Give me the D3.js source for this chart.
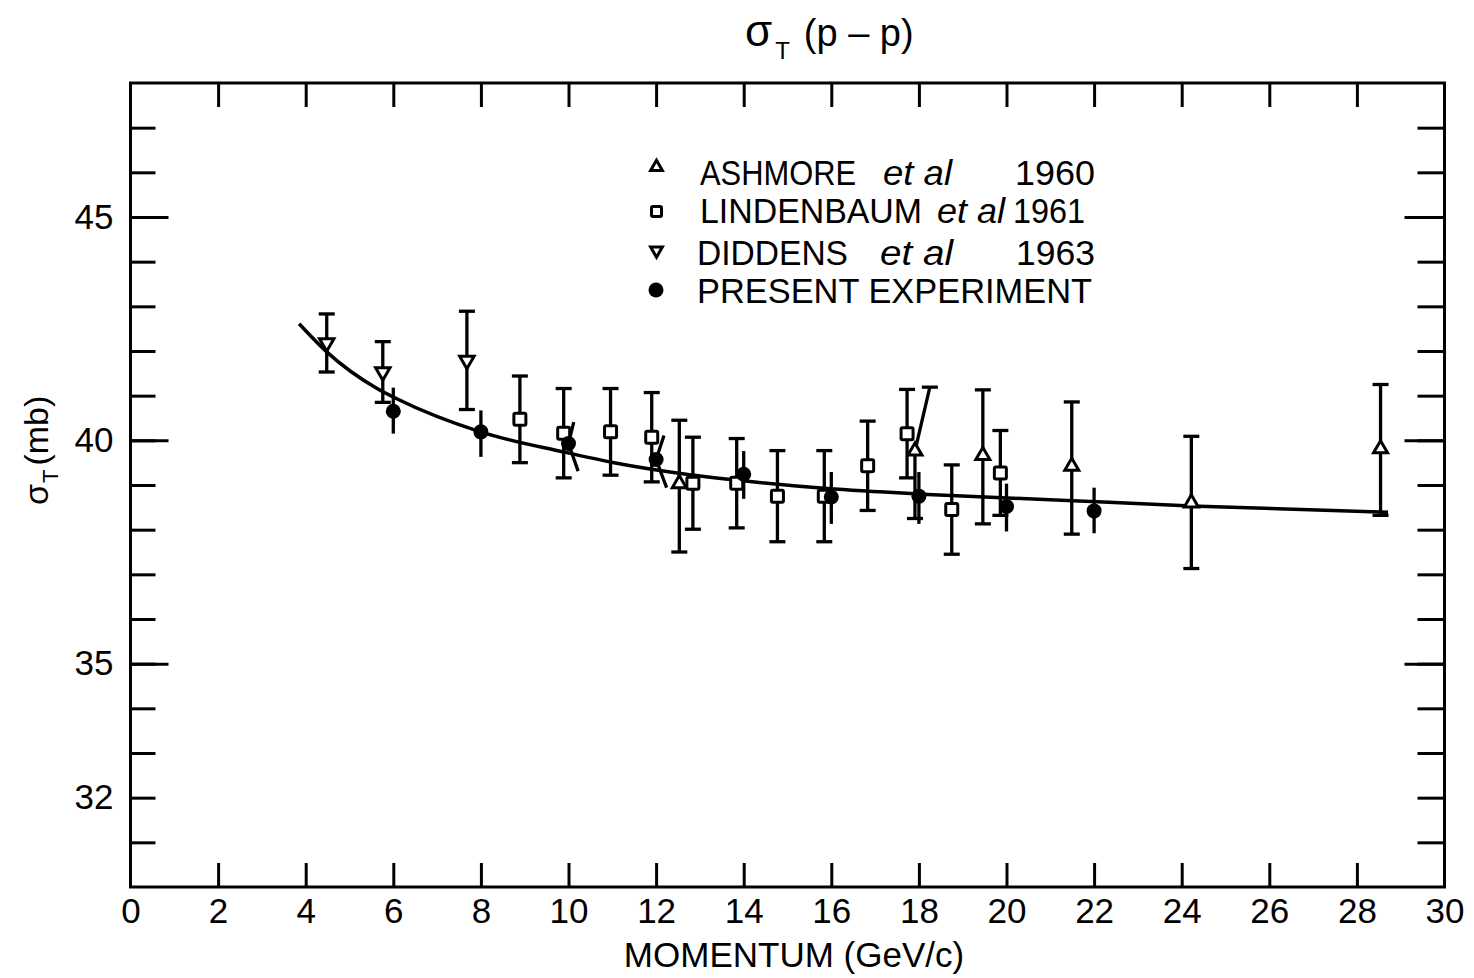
<!DOCTYPE html>
<html>
<head>
<meta charset="utf-8">
<script src="https://cdn.jsdelivr.net/npm/d3@7"></script>
<style>
  body { margin: 0; background: #fff; }
  svg { display: block; }
</style>
</head>
<body>
<div id="chart"></div>
<script>
// data (momentum in GeV/c, sigma_T in mb)
const ashmoreP = [12.53, 17.91, 19.46, 21.49, 24.22, 28.54];
const ashmoreS = [39.03, 39.76, 39.66, 39.42, 38.6, 39.81];
const ashmoreLo = [37.5, 38.25, 38.13, 37.9, 37.13, 38.32];
const ashmoreHi = [40.45, 41.19, 41.13, 40.86, 40.09, 41.25];
const ashmoreTopP = [12.53, 18.25, 19.46, 21.49, 24.22, 28.54]; // top of bar drawn crooked at 18

const lindenbaumP = [8.89, 9.89, 10.96, 11.9, 12.84, 13.84, 14.77, 15.84, 16.83, 17.73, 18.75, 19.86];
const lindenbaumS = [40.47, 40.16, 40.19, 40.07, 39.04, 39.04, 38.75, 38.75, 39.43, 40.15, 38.45, 39.27];
const lindenbaumErr = [0.97, 1.0, 0.97, 1.0, 1.03, 1.0, 1.02, 1.02, 1.0, 0.99, 1.0, 0.95];

const diddensP = [4.48, 5.76, 7.68];
const diddensS = [42.18, 41.53, 41.79];
const diddensErr = [0.65, 0.68, 1.1];

const presentP = [6, 8, 10, 12, 14, 16, 18, 20, 22];
const presentS = [40.65, 40.19, 39.93, 39.57, 39.24, 38.73, 38.75, 38.52, 38.42];
const presentLo = [40.15, 39.63, 39.31, 38.94, 38.69, 38.13, 38.13, 37.96, 37.92];
const presentHi = [41.18, 40.67, 40.41, 40.11, 39.76, 39.29, 39.29, 39.03, 38.94];
const presentTopP = [6, 8, 10.12, 12.18, 14, 16, 18, 20, 22];
const presentBotP = [6, 8, 10.22, 12.24, 14, 16, 18, 20, 22];

// fitted curve
const fitP = [3.85, 4.48, 5.63, 6.08, 7.99, 9.89, 11.04, 12.48, 13.93, 15.91, 18.2, 21.25, 24.22, 28.71];
const fitS = [42.61, 41.98, 41.16, 40.93, 40.19, 39.74, 39.5, 39.27, 39.1, 38.92, 38.79, 38.66, 38.53, 38.39];

const xLabels = d3.range(0, 31, 2);
const xTicks = d3.range(2, 30, 2);
const yMinor = d3.range(31, 48, 1);
const yMajor = [35, 40, 45];
const yLabels = [32, 35, 40, 45];

const legendNames = ["ASHMORE", "LINDENBAUM", "DIDDENS", "PRESENT EXPERIMENT"];
const legendYears = ["1960", "1961", "1963", ""];

const font = "'Liberation Sans', Arial, sans-serif";

const width = 1474, height = 978;
const x0 = 130.5, x1 = 1444.5, y0 = 83, y1 = 887;

const svg = d3.select("#chart").append("svg")
  .attr("width", width)
  .attr("height", height);

const x = d3.scaleLinear().domain([0, 30]).range([x0, x1]);
const y = d3.scaleLinear().domain([30, 48]).range([y1, y0]);

// ticks, all pointing inwards
function inward(g) {
  g.select(".domain").remove();
  g.selectAll("line").attr("stroke", "#000").attr("stroke-width", 3);
}
svg.append("g").attr("transform", `translate(0,${y1})`)
  .call(d3.axisBottom(x).tickValues(xTicks).tickSize(-24).tickFormat(""))
  .call(inward);
svg.append("g").attr("transform", `translate(0,${y0})`)
  .call(d3.axisTop(x).tickValues(xTicks).tickSize(-24).tickFormat(""))
  .call(inward);
svg.append("g").attr("transform", `translate(${x0},0)`)
  .call(d3.axisLeft(y).tickValues(yMinor).tickSize(-25).tickFormat(""))
  .call(inward);
svg.append("g").attr("transform", `translate(${x0},0)`)
  .call(d3.axisLeft(y).tickValues(yMajor).tickSize(-38).tickFormat(""))
  .call(inward);
svg.append("g").attr("transform", `translate(${x1},0)`)
  .call(d3.axisRight(y).tickValues(yMinor).tickSize(-27).tickFormat(""))
  .call(inward);
svg.append("g").attr("transform", `translate(${x1},0)`)
  .call(d3.axisRight(y).tickValues(yMajor).tickSize(-40).tickFormat(""))
  .call(inward);

// tick labels
const xAx = svg.append("g").attr("transform", `translate(0,${y1})`)
  .call(d3.axisBottom(x).tickValues(xLabels).tickSize(0).tickPadding(11).tickFormat(d3.format("d")));
xAx.select(".domain").remove();
xAx.attr("font-family", font).attr("font-size", 35);
xAx.selectAll("text").attr("fill", "#000");

const yAx = svg.append("g").attr("transform", `translate(${x0},0)`)
  .call(d3.axisLeft(y).tickValues(yLabels).tickSize(0).tickPadding(17).tickFormat(d3.format("d")));
yAx.select(".domain").remove();
yAx.attr("font-family", font).attr("font-size", 35);
yAx.selectAll("text").attr("fill", "#000");

// frame
svg.append("rect")
  .attr("x", x0).attr("y", y0)
  .attr("width", x1 - x0).attr("height", y1 - y0)
  .attr("fill", "none").attr("stroke", "#000").attr("stroke-width", 3);

// fitted curve
const fit = fitP.map((p, i) => [p, fitS[i]]);
svg.append("path")
  .datum(fit)
  .attr("fill", "none")
  .attr("stroke", "#000")
  .attr("stroke-width", 3.5)
  .attr("d", d3.line().x(d => x(d[0])).y(d => y(d[1])).curve(d3.curveMonotoneX));

const bars = svg.append("g").attr("stroke", "#000").attr("stroke-width", 3.3).attr("fill", "none");
const cap = 8;

function capped(p, s, lo, hi, topP) {
  bars.append("path").attr("d", d3.line()([
    [x(p), y(lo)], [x(p), y(s)], [x(topP), y(hi)]
  ]));
  bars.append("line").attr("x1", x(p) - cap).attr("x2", x(p) + cap).attr("y1", y(lo)).attr("y2", y(lo));
  bars.append("line").attr("x1", x(topP) - cap).attr("x2", x(topP) + cap).attr("y1", y(hi)).attr("y2", y(hi));
}

ashmoreP.forEach((p, i) => capped(p, ashmoreS[i], ashmoreLo[i], ashmoreHi[i], ashmoreTopP[i]));
lindenbaumP.forEach((p, i) => capped(p, lindenbaumS[i], lindenbaumS[i] - lindenbaumErr[i], lindenbaumS[i] + lindenbaumErr[i], p));
diddensP.forEach((p, i) => capped(p, diddensS[i], diddensS[i] - diddensErr[i], diddensS[i] + diddensErr[i], p));
presentP.forEach((p, i) => {
  bars.append("path").attr("d", d3.line()([
    [x(presentBotP[i]), y(presentLo[i])], [x(p), y(presentS[i])], [x(presentTopP[i]), y(presentHi[i])]
  ]));
});

// markers
function drawTriUp(g, cx, cy, s) {
  g.append("path").attr("d", d3.symbol().type(d3.symbolTriangle).size(s)())
    .attr("transform", `translate(${cx},${cy})`)
    .attr("fill", "#fff").attr("stroke", "#000").attr("stroke-width", 3);
}
function drawTriDown(g, cx, cy, s) {
  g.append("path").attr("d", d3.symbol().type(d3.symbolTriangle).size(s)())
    .attr("transform", `translate(${cx},${cy}) rotate(180)`)
    .attr("fill", "#fff").attr("stroke", "#000").attr("stroke-width", 3);
}
function drawSquare(g, cx, cy, w) {
  g.append("rect").attr("x", cx - w / 2).attr("y", cy - w / 2)
    .attr("width", w).attr("height", w).attr("rx", 1.5)
    .attr("fill", "#fff").attr("stroke", "#000").attr("stroke-width", 3);
}
function drawDot(g, cx, cy, r) {
  g.append("circle").attr("cx", cx).attr("cy", cy).attr("r", r).attr("fill", "#000");
}

const marks = svg.append("g");
ashmoreP.forEach((p, i) => drawTriUp(marks, x(p), y(ashmoreS[i]), 85));
lindenbaumP.forEach((p, i) => drawSquare(marks, x(p), y(lindenbaumS[i]), 12));
diddensP.forEach((p, i) => drawTriDown(marks, x(p), y(diddensS[i]), 90));
presentP.forEach((p, i) => drawDot(marks, x(p), y(presentS[i]), 7.5));

// legend
const legend = svg.append("g").attr("font-family", font).attr("font-size", 35).attr("fill", "#000");
const rowY = [185, 223, 265, 303];
const markY = [166, 211.5, 251.5, 290];
drawTriUp(legend, 656.5, markY[0] + 1, 60);
drawSquare(legend, 656.5, markY[1], 10);
drawTriDown(legend, 656.5, markY[2] - 1, 60);
drawDot(legend, 656, markY[3], 7.5);

const nameX = [700, 700, 697, 697];
const nameLen = [156, 222, 151, 395];
const etalX = [883, 937, 880];
const etalLen = [69, 68, 73];
const yearX = [1015, 1013, 1016];
const yearLen = [80, 72, 79];
legendNames.forEach((n, i) => {
  legend.append("text").attr("x", nameX[i]).attr("y", rowY[i])
    .attr("textLength", nameLen[i]).attr("lengthAdjust", "spacingAndGlyphs").text(n);
  if (legendYears[i]) {
    legend.append("text").attr("x", etalX[i]).attr("y", rowY[i])
      .attr("font-style", "italic")
      .attr("textLength", etalLen[i]).attr("lengthAdjust", "spacingAndGlyphs").text("et al");
    legend.append("text").attr("x", yearX[i]).attr("y", rowY[i])
      .attr("textLength", yearLen[i]).attr("lengthAdjust", "spacingAndGlyphs").text(legendYears[i]);
  }
});

// title
const title = svg.append("text").attr("x", 745).attr("y", 46)
  .attr("font-family", font).attr("font-size", 38).attr("fill", "#000");
title.append("tspan").attr("font-size", 44).text("σ");
title.append("tspan").attr("font-size", 24).attr("dy", 13).attr("dx", 3).text("T");
title.append("tspan").attr("dy", -13).attr("dx", 14).text("(p – p)");

// axis titles
svg.append("text")
  .attr("x", 794).attr("y", 967)
  .attr("text-anchor", "middle")
  .attr("font-family", font).attr("font-size", 35).attr("fill", "#000")
  .text("MOMENTUM (GeV/c)");

const yt = svg.append("text")
  .attr("transform", "translate(48,505) rotate(-90)")
  .attr("font-family", font).attr("font-size", 34).attr("fill", "#000");
yt.append("tspan").text("σ");
yt.append("tspan").attr("font-size", 22).attr("dy", 10).attr("dx", 1).text("T");
yt.append("tspan").attr("dy", -10).attr("dx", 4).text("(mb)");
</script>
</body>
</html>
